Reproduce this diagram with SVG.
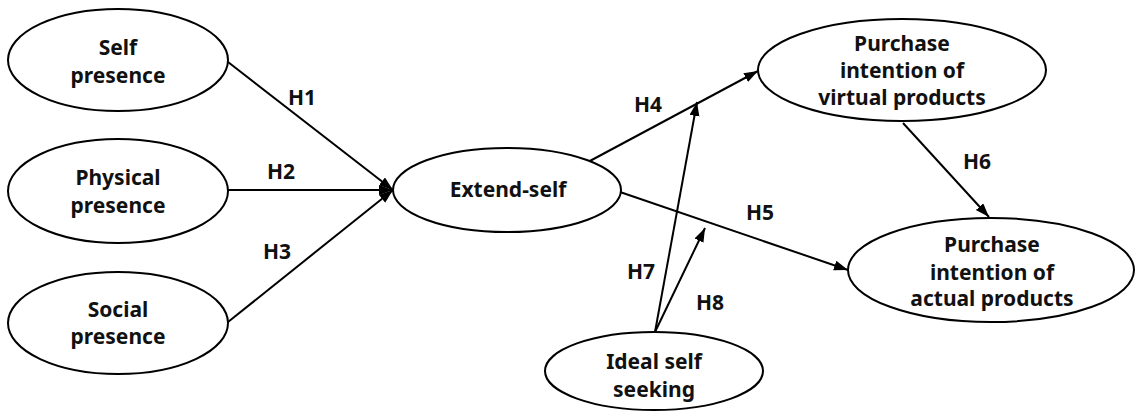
<svg xmlns="http://www.w3.org/2000/svg" width="1143" height="413" viewBox="0 0 1143 413">
<defs>
<style>
.node ellipse{fill:#fff;stroke:#000;stroke-width:2}
.t{font-family:"Noto Sans","Open Sans","Liberation Sans",sans-serif;font-weight:bold;font-size:21px;fill:#111;text-anchor:middle}
.lbl{font-size:21px}
.conn line{stroke:#000;stroke-width:2;marker-end:url(#ah)}
</style>
<marker id="ah" markerUnits="userSpaceOnUse" markerWidth="16" markerHeight="12" refX="14" refY="5" orient="auto">
<path d="M0,0 L14,5 L0,10 z" fill="#000"/>
</marker>
</defs>
<rect width="1143" height="413" fill="#fff"/>
<g id="connectors" class="conn">
<line x1="228" y1="62" x2="393" y2="190"/>
<line x1="228" y1="190" x2="393" y2="190"/>
<line x1="228" y1="322" x2="393" y2="190"/>
<line x1="588" y1="162" x2="758" y2="71"/>
<line x1="620" y1="192" x2="848" y2="270"/>
<line x1="903" y1="123" x2="989" y2="217"/>
<line x1="655" y1="332" x2="697" y2="102"/>
<line x1="655" y1="332" x2="705" y2="228"/>
</g>
<g id="labels" class="t lbl">
<text x="302" y="105">H1</text>
<text x="281" y="179">H2</text>
<text x="277" y="259">H3</text>
<text x="648" y="112">H4</text>
<text x="760" y="220">H5</text>
<text x="977" y="169">H6</text>
<text x="641" y="279">H7</text>
<text x="710" y="310">H8</text>
</g>
<g id="self-presence" class="node">
<ellipse cx="118" cy="60" rx="110" ry="51"/>
<text class="t" x="118" y="55">Self</text>
<text class="t" x="118" y="83">presence</text>
</g>
<g id="physical-presence" class="node">
<ellipse cx="118" cy="191" rx="110" ry="52"/>
<text class="t" x="118" y="185">Physical</text>
<text class="t" x="118" y="213">presence</text>
</g>
<g id="social-presence" class="node">
<ellipse cx="118" cy="323" rx="110" ry="51"/>
<text class="t" x="118" y="317">Social</text>
<text class="t" x="118" y="344">presence</text>
</g>
<g id="extend-self" class="node">
<ellipse cx="507" cy="190" rx="114" ry="42"/>
<text class="t" x="508" y="197">Extend-self</text>
</g>
<g id="purchase-virtual" class="node">
<ellipse cx="902" cy="70" rx="144" ry="51"/>
<text class="t" x="902" y="51">Purchase</text>
<text class="t" x="902" y="78">intention of</text>
<text class="t" x="902" y="105">virtual products</text>
</g>
<g id="purchase-actual" class="node">
<ellipse cx="991" cy="270" rx="143" ry="52"/>
<text class="t" x="992" y="252">Purchase</text>
<text class="t" x="992" y="280">intention of</text>
<text class="t" x="992" y="306">actual products</text>
</g>
<g id="ideal-self-seeking" class="node">
<ellipse cx="654" cy="371" rx="109" ry="39"/>
<text class="t" x="654" y="369">Ideal self</text>
<text class="t" x="654" y="397">seeking</text>
</g>
</svg>
